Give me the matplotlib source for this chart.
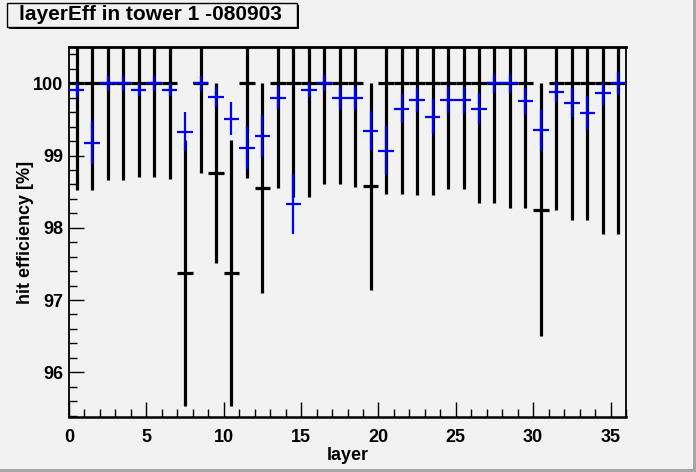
import numpy as np
import matplotlib
matplotlib.use("Agg")
import matplotlib.pyplot as plt
from matplotlib.patches import Rectangle
from matplotlib.ticker import MultipleLocator

plt.rcParams['font.family'] = ['Liberation Sans', 'DejaVu Sans']

# ---- data ----
layers = list(range(36))

blue_val = [99.91, 99.18, 100.0, 100.0, 99.91, 100.0, 99.91, 99.33, 100.0, 99.81,
            99.51, 99.11, 99.27, 99.80, 98.33, 99.91, 100.0, 99.79, 99.79, 99.34,
            99.07, 99.65, 99.77, 99.54, 99.77, 99.77, 99.65, 100.0, 100.0, 99.75,
            99.36, 99.88, 99.73, 99.59, 99.86, 100.0]
blue_err = [0.10, 0.30, 0.10, 0.10, 0.09, 0.10, 0.09, 0.27, 0.10, 0.14,
            0.23, 0.30, 0.29, 0.16, 0.42, 0.10, 0.11, 0.16, 0.16, 0.28,
            0.34, 0.20, 0.17, 0.24, 0.18, 0.18, 0.21, 0.13, 0.13, 0.19,
            0.29, 0.14, 0.20, 0.24, 0.16, 0.16]

black_val = [100.0, 100.0, 100.0, 100.0, 100.0, 100.0, 100.0, 97.37, 100.0, 98.76,
             97.37, 100.0, 98.55, 100.0, 100.0, 100.0, 100.0, 100.0, 100.0, 98.58,
             100.0, 100.0, 100.0, 100.0, 100.0, 100.0, 100.0, 100.0, 100.0, 100.0,
             98.24, 100.0, 100.0, 100.0, 100.0, 100.0]
black_lo = [98.52, 98.52, 98.66, 98.66, 98.71, 98.71, 98.68, 95.53, 98.76, 97.51,
            95.53, 98.69, 97.10, 98.55, 98.43, 98.43, 98.61, 98.61, 98.57, 97.14,
            98.47, 98.47, 98.45, 98.45, 98.54, 98.54, 98.35, 98.35, 98.27, 98.27,
            96.50, 98.24, 98.11, 98.11, 97.91, 97.91]
black_hi = [101.48, 101.48, 101.34, 101.34, 101.29, 101.29, 101.32, 99.22, 101.24, 100.0,
            99.22, 101.31, 100.0, 101.45, 101.57, 101.57, 101.39, 101.39, 101.43, 100.0,
            101.53, 101.53, 101.55, 101.55, 101.46, 101.46, 101.65, 101.65, 101.73, 101.73,
            100.0, 101.76, 101.89, 101.89, 102.09, 102.09]

x_ticks = [0, 5, 10, 15, 20, 25, 30, 35]
y_ticks = [96, 97, 98, 99, 100]

# ---- figure ----
W, H = 696, 472
bg = '#f2f2f2'
fig = plt.figure(figsize=(W / 100, H / 100), dpi=100, facecolor=bg)
L, R, T, B = 69, 626, 46.7, 416.7
ax = fig.add_axes([L / W, 1 - B / H, (R - L) / W, (B - T) / H])
ax.set_facecolor(bg)

x = np.array(layers) + 0.5
bv = np.array(black_val)
ax.errorbar(x, bv, yerr=[bv - np.array(black_lo), np.array(black_hi) - bv], xerr=0.5,
            fmt='none', ecolor='black', elinewidth=2.3, capsize=0, zorder=2)
ax.errorbar(x, blue_val, yerr=blue_err, xerr=0.5,
            fmt='none', ecolor='#0000ff', elinewidth=1.6, capsize=0, zorder=3)

ax.set_xlim(0, 36)
ax.set_ylim(95.385, 100.507)
ax.set_xticks(x_ticks)
ax.set_yticks(y_ticks)
ax.xaxis.set_minor_locator(MultipleLocator(1))
ax.yaxis.set_minor_locator(MultipleLocator(0.2))
ax.tick_params(which='both', direction='in', top=False, right=False, width=1, colors='black')
ax.tick_params(which='major', length=11)
ax.tick_params(which='minor', length=5.5)
ax.tick_params(axis='x', pad=9, labelsize=13)
ax.tick_params(axis='y', pad=4, labelsize=13)
for lab in ax.get_xticklabels() + ax.get_yticklabels():
    lab.set_fontweight('bold')
for s in ax.spines.values():
    s.set_linewidth(1.3)
ax.spines['top'].set_linewidth(2)
ax.spines['bottom'].set_linewidth(1.8)

fig.text(347.5 / W, 1 - 456 / H, 'layer', ha='center', va='center',
         fontsize=13, fontweight='bold')
fig.text(25.5 / W, 1 - 232 / H, 'hit efficiency [%]', ha='center', va='center',
         rotation=90, fontsize=13, fontweight='bold')

# title box with shadow
bx0, by0, bx1, by1 = 7, 3, 297, 27
fig.patches.append(Rectangle(((bx0 + 2) / W, 1 - (by1 + 2) / H), (bx1 - bx0) / W, (by1 - by0) / H,
                             transform=fig.transFigure, facecolor='black', edgecolor='none'))
fig.patches.append(Rectangle((bx0 / W, 1 - by1 / H), (bx1 - bx0) / W, (by1 - by0) / H,
                             transform=fig.transFigure, facecolor=bg, edgecolor='black', linewidth=1))
fig.text(150 / W, 1 - 15 / H, 'layerEff in tower 1 -080903',
         ha='center', va='center', fontsize=15, fontweight='bold')

# canvas bevel
fig.patches.append(Rectangle(((W - 3) / W, 0), 3 / W, 1, transform=fig.transFigure,
                             facecolor='#a6a6a6', edgecolor='none'))
fig.patches.append(Rectangle((0, 0), 1, 3 / H, transform=fig.transFigure,
                             facecolor='#a6a6a6', edgecolor='none'))

fig.savefig('out.png', dpi=100, facecolor=bg)
